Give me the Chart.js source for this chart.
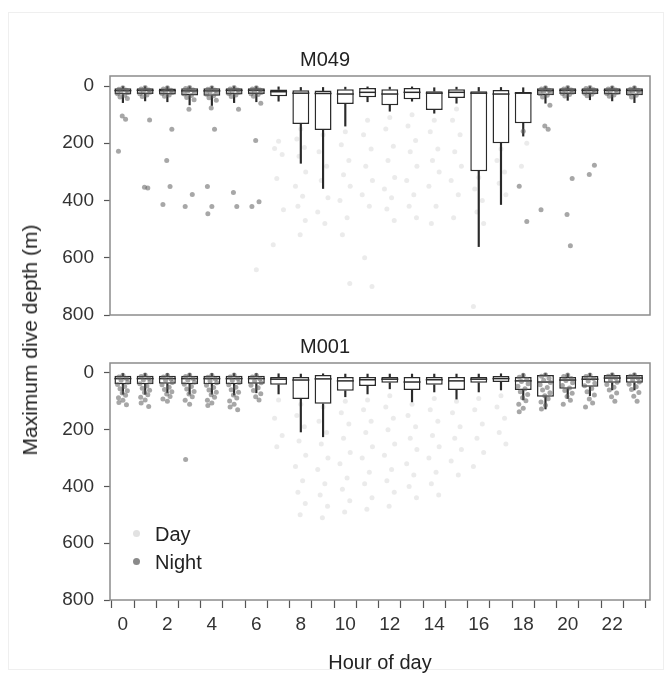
<!DOCTYPE html>
<html>
<head>
<meta charset="utf-8">
<script src="https://cdn.jsdelivr.net/npm/chart.js@4.4.1/dist/chart.umd.min.js"></script>
<style>
  body { margin: 0; background: #fff; font-family: "Liberation Sans", Arial, sans-serif; }
  #wrap { position: relative; width: 672px; height: 680px; }
  #frame { position: absolute; left: 8px; top: 12px; width: 654px; height: 656px; border: 1px solid #efefef; }
  #c1 { position: absolute; left: 0; top: 0; }
  #c2 { position: absolute; left: 0; top: 330px; }
  #ytitle { position: absolute; left: 30px; top: 340px; transform: translate(-50%, -50%) rotate(-90deg);
            white-space: nowrap; font-size: 21px; color: #222; }
  .leg { position: absolute; left: 155px; font-size: 20px; color: #222; line-height: 22px; }
  .dot { position: absolute; width: 7px; height: 7px; border-radius: 50%; left: -22px; top: 7px; }
</style>
</head>
<body>
<div id="wrap">
  <div id="frame"></div>
  <canvas id="c1" width="672" height="330"></canvas>
  <canvas id="c2" width="672" height="350"></canvas>
  <div id="ytitle">Maximum dive depth (m)</div>
  <div class="leg" style="top:523px"><span class="dot" style="background:#e2e2e2"></span>Day</div>
  <div class="leg" style="top:551px"><span class="dot" style="background:#8a8a8a"></span>Night</div>
</div>
<script>
// hours of the day and depth ticks
const hours = [0,1,2,3,4,5,6,7,8,9,10,11,12,13,14,15,16,17,18,19,20,21,22,23];
const depthTicks = [0, 200, 400, 600, 800];

// M049 box statistics (m)
const m049Lo  = [2,2,2,2,2,2,2,3, 5,5,4,3, 4,3,6,4, 5,5,6, 2,2,2,2,2];
const m049Q1  = [8,8,9,8,8,8,8,12, 15,16,11,7, 11,7,18,11, 18,14,21, 8,8,8,8,8];
const m049Med = [16,15,16,17,17,15,15,20, 25,26,28,22, 28,22,25,22, 25,28,25, 16,15,15,15,16];
const m049Q3  = [30,28,30,33,34,30,28,36, 133,154,63,39, 67,46,84,42, 298,200,130, 32,28,28,30,32];
const m049Hi  = [58,52,55,66,68,58,55,53, 270,358,140,55, 88,53,95,60, 561,414,175, 60,50,48,52,58];

// M049 individual dives outside / around the boxes
const m049Night = {
  0: [6,11,15,19,23,27,32,38,44,105,116,228],
  1: [5,10,14,18,22,27,31,37,119,354,356],
  2: [6,10,15,19,23,26,31,36,151,260,351,414],
  3: [5,9,14,18,23,28,33,40,48,81,379,421],
  4: [6,11,15,20,24,29,34,41,50,77,151,351,421,446],
  5: [5,10,14,18,22,26,31,37,81,372,421],
  6: [6,10,14,19,23,27,30,36,60,190,404,421],
  18: [158,350,473],
  19: [6,10,15,19,23,27,32,38,67,140,151,432],
  20: [5,10,14,18,22,26,30,35,323,449,558],
  21: [5,9,13,17,21,25,29,34,277,309],
  22: [6,10,14,18,22,26,31,36],
  23: [6,11,15,19,23,27,32,38]
};
const m049Day = {
  6: [642],
  7: [193,218,239,323,432,555],
  8: [150,185,215,245,300,350,385,420,470,520],
  9: [170,230,280,330,390,440,480],
  10: [160,205,260,310,350,400,460,520,690],
  11: [120,170,220,280,330,380,420,600,700],
  12: [110,150,210,260,320,360,390,430,470],
  13: [100,140,190,230,280,330,380,420,460],
  14: [120,160,220,260,300,350,420,480],
  15: [80,120,170,230,280,330,380,460],
  16: [320,360,400,440,480,770],
  17: [220,260,300,340,380],
  18: [46,100,200,280]
};

// M001 box statistics (m)
const m001Lo  = [2,2,2,2,2,2,2,3, 4,3,4,4, 4,4,4,4, 4,3,3, 2,3,2,2,2];
const m001Q1  = [10,10,10,10,10,10,10,14, 14,7,14,14, 14,14,14,14, 14,11,14, 7,14,11,7,7];
const m001Med = [20,20,20,20,20,20,20,22, 25,21,28,24, 22,32,24,28, 22,20,28, 32,25,22,18,18];
const m001Q3  = [40,40,38,40,40,40,38,42, 92,109,63,46, 35,60,42,60, 35,32,60, 84,56,49,35,35];
const m001Hi  = [75,75,70,75,75,78,70,74, 208,225,84,74, 56,102,67,92, 67,60,95, 127,90,80,60,60];

const m001Night = {
  0: [8,14,20,26,33,41,48,56,63,71,79,87,96,104,112],
  1: [7,13,19,25,31,38,46,54,61,69,77,86,95,106,118],
  2: [8,14,21,27,34,42,50,58,66,74,83,92,100],
  3: [7,13,20,26,33,40,48,57,65,74,84,96,110,305],
  4: [8,15,21,28,35,43,51,60,68,77,86,96,106,115],
  5: [7,14,20,27,34,42,50,59,68,78,88,99,110,120,130],
  6: [8,14,21,28,35,43,52,62,73,84,95],
  18: [8,15,22,30,38,47,56,66,76,87,98,110,124,137],
  19: [6,12,19,26,34,42,51,60,70,80,91,102,114,127],
  20: [7,13,20,27,35,44,53,62,72,83,96,110],
  21: [7,13,20,28,36,45,55,66,78,92,106,120],
  22: [6,12,18,25,33,41,50,60,71,84,100],
  23: [6,12,18,25,32,40,49,58,69,82,100]
};
const m001Day = {
  7: [95,160,220,260],
  8: [110,150,190,240,290,330,380,420,460,500],
  9: [120,170,210,250,300,340,390,430,470,510],
  10: [100,140,180,230,280,320,370,410,450,490],
  11: [95,130,170,210,260,300,350,390,440,480],
  12: [80,120,160,200,250,290,340,380,420,470],
  13: [110,150,190,230,270,320,360,400,440],
  14: [90,130,170,220,260,300,350,390,430],
  15: [100,140,190,230,270,310,360],
  16: [90,130,180,230,280,330],
  17: [80,120,160,210,250]
};

Chart.defaults.font.family = "'Liberation Sans', Arial, sans-serif";
Chart.defaults.color = '#333';

const jitter = [0, -0.18, 0.16, -0.08, 0.22, -0.24, 0.08, -0.13, 0.2, -0.03, 0.12, -0.2];

function toPoints(obj) {
  const pts = [];
  Object.keys(obj).forEach(h => {
    obj[h].forEach((d, i) => pts.push({ x: Number(h) + jitter[i % jitter.length], y: d }));
  });
  return pts;
}

const framePlugin = {
  id: 'frame',
  afterDatasetsDraw(chart) {
    const a = chart.chartArea, ctx = chart.ctx;
    ctx.save();
    ctx.strokeStyle = '#8c8c8c';
    ctx.lineWidth = 1.5;
    ctx.strokeRect(a.left, a.top, a.right - a.left, a.bottom - a.top);
    ctx.restore();
  }
};

function makeChart(id, title, titlePad, lo, q1, med, q3, hi, night, day, showX) {
  const boxes = hours.map((h, i) => ({ x: h, y: [q1[i], q3[i]] }));
  const upper = hours.map((h, i) => ({ x: h, y: [q3[i], hi[i]] }));
  const lower = hours.map((h, i) => ({ x: h, y: [lo[i], q1[i]] }));
  const medians = hours.map((h, i) => ({ x: h, y: med[i] }));

  return new Chart(document.getElementById(id), {
    type: 'bar',
    data: {
      datasets: [
        { type: 'scatter', label: 'Day', data: toPoints(day), order: 6,
          backgroundColor: 'rgba(190,190,190,0.3)', borderWidth: 0, pointRadius: 2.5 },
        { label: 'whisker-up', data: upper, order: 5, grouped: false, barThickness: 1.5,
          backgroundColor: '#2a2a2a', borderWidth: 0 },
        { label: 'whisker-lo', data: lower, order: 5, grouped: false, barThickness: 1.5,
          backgroundColor: '#2a2a2a', borderWidth: 0 },
        { label: 'box', data: boxes, order: 4, grouped: false,
          categoryPercentage: 0.8, barPercentage: 0.95,
          backgroundColor: '#ffffff', borderColor: '#2a2a2a', borderWidth: 1.5, borderSkipped: false },
        { type: 'scatter', label: 'median', data: medians, order: 3,
          pointStyle: 'line', pointRadius: 8.5, borderColor: '#2a2a2a', borderWidth: 1.5 },
        { type: 'scatter', label: 'Night', data: toPoints(night), order: 1,
          backgroundColor: 'rgba(95,95,95,0.55)', borderWidth: 0, pointRadius: 2.5 }
      ]
    },
    options: {
      responsive: false,
      animation: false,
      events: [],
      layout: { padding: { left: 0, right: 22, top: 0, bottom: showX ? 0 : 15 } },
      plugins: {
        legend: { display: false },
        tooltip: { enabled: false },
        title: { display: true, text: title, color: '#222',
                 font: { size: 20, weight: 'normal' }, padding: titlePad }
      },
      scales: {
        x: {
          type: 'linear', min: -0.58, max: 23.7, offset: false, display: showX,
          afterBuildTicks: axis => { axis.ticks = hours.map(v => ({ value: v })); },
          afterFit: axis => { if (showX) axis.height = 80; },
          grid: { drawOnChartArea: false, drawTicks: true, tickLength: 8, color: '#555', tickWidth: 1.2 },
          border: { display: false },
          ticks: { font: { size: 19 }, color: '#333', padding: 5, maxRotation: 0, autoSkip: false,
                   callback: v => (v % 2 === 0 ? v : '') },
          title: { display: true, text: 'Hour of day', color: '#222', font: { size: 20 },
                   padding: { top: 0, bottom: 5 } }
        },
        y: {
          type: 'linear', reverse: true, min: -35, max: 800,
          afterBuildTicks: axis => { axis.ticks = depthTicks.map(v => ({ value: v })); },
          afterFit: axis => { axis.width = 110; axis.paddingTop = 0; axis.paddingBottom = 0; },
          grid: { drawOnChartArea: false, drawTicks: true, tickLength: 6, color: '#555', tickWidth: 1.2 },
          border: { display: false },
          ticks: { font: { size: 19 }, color: '#333', padding: 10 }
        }
      }
    },
    plugins: [framePlugin]
  });
}

makeChart('c1', 'M049', { top: 48, bottom: 4 }, m049Lo, m049Q1, m049Med, m049Q3, m049Hi, m049Night, m049Day, false);
makeChart('c2', 'M001', { top: 5, bottom: 4 }, m001Lo, m001Q1, m001Med, m001Q3, m001Hi, m001Night, m001Day, true);
</script>
</body>
</html>
